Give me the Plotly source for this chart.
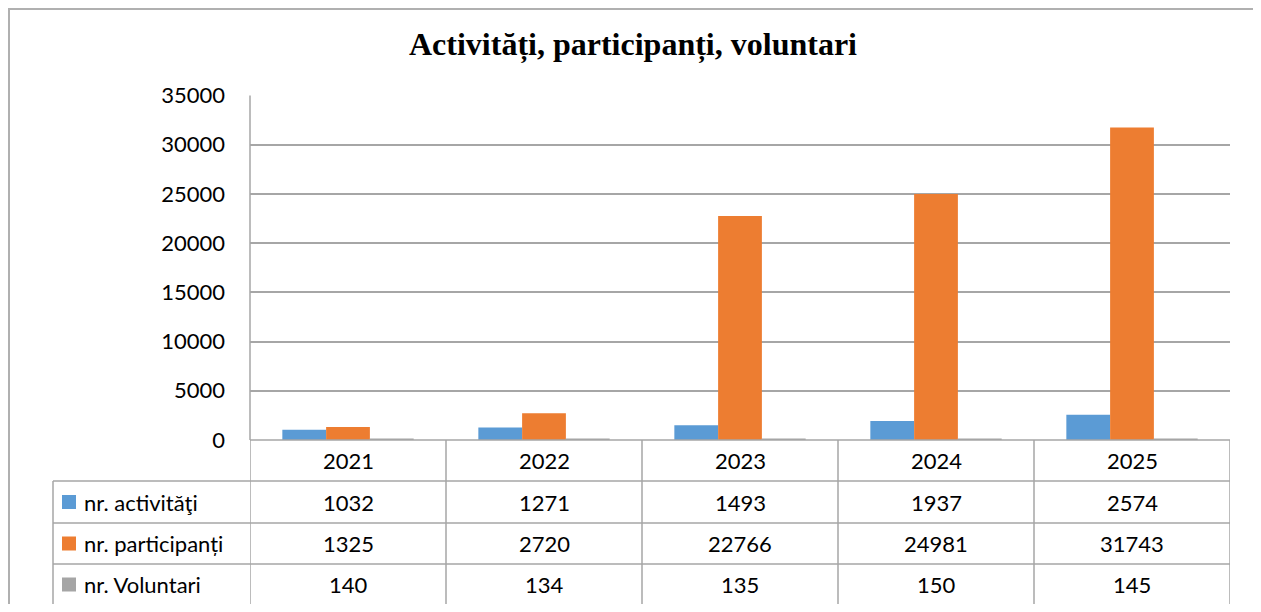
import plotly.graph_objects as go

# page is 1261x612 with the default 8px body margin around the figure
W, H = 1245, 596
OFF = 8

years = ["2021", "2022", "2023", "2024", "2025"]
activitati = [1032, 1271, 1493, 1937, 2574]
participanti = [1325, 2720, 22766, 24981, 31743]
voluntari = [140, 134, 135, 150, 145]

series_names = ["nr. activităţi", "nr. participanți", "nr. Voluntari"]
series_values = [activitati, participanti, voluntari]
colors = ["#5B9BD5", "#ED7D31", "#A5A5A5"]

grid_color = "#A6A6A6"
font_fam = "Lato, Carlito, Arial, sans-serif"


def fx(p):
    return (p - OFF) / W


def fy(p):
    return 1 - (p - OFF) / H


# page-pixel layout of the plot + data table (Excel style)
plot_left, plot_right = 250, 1230
plot_top, plot_bottom = 95.5, 440
row_lines = [440, 481, 523, 564, 605]
label_left = 53

fig = go.Figure()
for name, vals, col in zip(series_names, series_values, colors):
    fig.add_trace(go.Bar(x=years, y=vals, name=name, marker_color=col,
                         marker_line_width=0, hoverinfo="skip"))

shapes = []
line = dict(color=grid_color, width=1.5)

# horizontal table lines
shapes.append(dict(type="line", xref="paper", yref="paper",
                   x0=fx(plot_left), x1=fx(plot_right),
                   y0=fy(row_lines[0]), y1=fy(row_lines[0]), line=line))
for r in row_lines[1:]:
    shapes.append(dict(type="line", xref="paper", yref="paper",
                       x0=fx(label_left), x1=fx(plot_right),
                       y0=fy(r), y1=fy(r), line=line))
# vertical table lines on category boundaries
for i in range(len(years) + 1):
    shapes.append(dict(type="line", xref="x", yref="paper",
                       x0=i - 0.5, x1=i - 0.5,
                       y0=fy(row_lines[0]), y1=fy(row_lines[-1]), line=line))
shapes.append(dict(type="line", xref="paper", yref="paper",
                   x0=fx(label_left), x1=fx(label_left),
                   y0=fy(row_lines[1]), y1=fy(row_lines[-1]), line=line))
# y axis line
shapes.append(dict(type="line", xref="paper", yref="paper",
                   x0=fx(plot_left), x1=fx(plot_left),
                   y0=fy(plot_top), y1=fy(plot_bottom), line=line))

# legend keys in the table
for k, col in enumerate(colors):
    cy = (row_lines[k + 1] + row_lines[k + 2]) / 2
    shapes.append(dict(type="rect", xref="paper", yref="paper",
                       x0=fx(62), x1=fx(76), y0=fy(cy - 7), y1=fy(cy + 7),
                       fillcolor=col, line=dict(width=0)))

# outer chart border (left + top, right edge falls outside the page)
border = dict(color="#B0B0B0", width=2)
shapes.append(dict(type="line", xref="paper", yref="paper",
                   x0=0, x1=1, y0=fy(9), y1=fy(9), line=border))
shapes.append(dict(type="line", xref="paper", yref="paper",
                   x0=fx(9), x1=fx(9), y0=fy(9), y1=0, line=border))

annotations = []
tfont = dict(family=font_fam, size=22, color="black")
for i, y in enumerate(years):
    cy = (row_lines[0] + row_lines[1]) / 2
    annotations.append(dict(x=i, y=fy(cy), xref="x", yref="paper", text=y,
                            showarrow=False, font=tfont, xanchor="center", yanchor="middle"))
    for k, vals in enumerate(series_values):
        cy = (row_lines[k + 1] + row_lines[k + 2]) / 2
        annotations.append(dict(x=i, y=fy(cy), xref="x", yref="paper", text=str(vals[i]),
                                showarrow=False, font=tfont, xanchor="center", yanchor="middle"))
for k, name in enumerate(series_names):
    cy = (row_lines[k + 1] + row_lines[k + 2]) / 2
    annotations.append(dict(x=fx(82), y=fy(cy), xref="paper", yref="paper", text=name,
                            showarrow=False, font=tfont, xanchor="left", yanchor="middle"))

annotations.append(dict(x=fx(632.5), y=fy(44), xref="paper", yref="paper",
                        text="<b>Activități, participanți, voluntari</b>", showarrow=False,
                        font=dict(family="Liberation Serif, Times New Roman, serif", size=32, color="black"),
                        xanchor="center", yanchor="middle"))

fig.update_layout(
    width=W, height=H,
    margin=dict(l=0, r=0, t=0, b=0, autoexpand=False),
    paper_bgcolor="white", plot_bgcolor="white",
    barmode="group", bargap=0.33, bargroupgap=0,
    showlegend=False,
    shapes=shapes, annotations=annotations,
    xaxis=dict(type="category", domain=[fx(plot_left), fx(plot_right)], showticklabels=False,
               showgrid=False, zeroline=False, showline=False, automargin=False,
               range=[-0.5, len(years) - 0.5]),
    yaxis=dict(domain=[fy(plot_bottom), fy(plot_top)], range=[0, 35000],
               dtick=5000, showgrid=True, gridcolor=grid_color, gridwidth=1.5,
               zeroline=False, showline=False, ticks="", automargin=False,
               ticklabelstandoff=24, tickfont=tfont, tickformat="d"),
)

fig.write_html("out.html")
